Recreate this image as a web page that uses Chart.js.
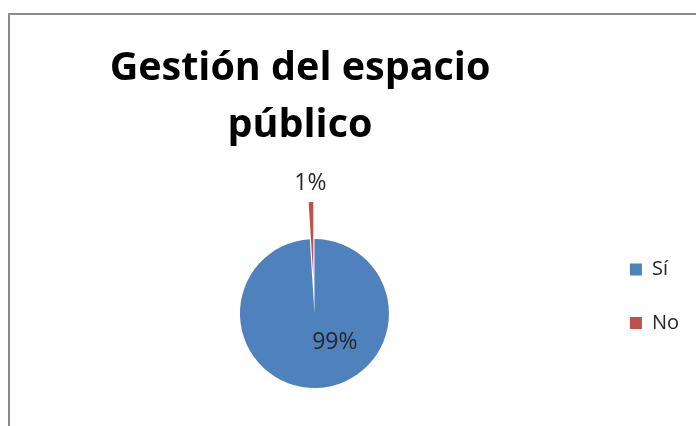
<!DOCTYPE html>
<html>
<head>
<meta charset="utf-8">
<script src="https://cdn.jsdelivr.net/npm/chart.js@4/dist/chart.umd.min.js"></script>
<style>
  html, body { margin: 0; padding: 0; background: #fff; }
  #wrap { position: relative; width: 696px; height: 426px; overflow: hidden; }
  #frame { position: absolute; left: 8px; top: 13px; width: 800px; height: 600px; border: 2px solid #8c8c8c; }
  #box { position: absolute; left: 0; top: 0; width: 696px; height: 426px; }
</style>
</head>
<body>
<div id="wrap">
  <div id="frame"></div>
  <div id="box"><canvas id="canvas"></canvas></div>
</div>
<script>
const titleLines = ['Gestión del espacio', 'público']
const labels = ['Sí', 'No']
const values = [99, 1]
const colors = ['#4F81BD', '#C0504D']
const explodeBy = [0, 37]

const total = values.reduce((a, b) => a + b, 0)

// Excel style exploded slice: move the whole arc out along its mid angle
// (chart.js "offset" also thins small slices, so it is not used here)
const explode = {
  id: 'explode',
  afterDatasetUpdate(chart, args) {
    args.meta.data.forEach((arc, i) => {
      const d = explodeBy[i]
      if (!d) return
      const mid = (arc.startAngle + arc.endAngle) / 2
      arc.x += Math.cos(mid) * d
      arc.y += Math.sin(mid) * d
    })
  }
}

// percentage labels, drawn from the arc geometry
const pieLabels = {
  id: 'pieLabels',
  afterDatasetsDraw(chart) {
    const ctx = chart.ctx
    const arcs = chart.getDatasetMeta(0).data
    ctx.save()
    ctx.font = '23px "Open Sans"'
    ctx.fillStyle = '#262626'
    ctx.textAlign = 'center'
    ctx.textBaseline = 'middle'
    arcs.forEach((arc, i) => {
      const p = arc.getProps(['x', 'y', 'startAngle', 'endAngle', 'outerRadius'], true)
      const text = Math.round(values[i] / total * 100) + '%'
      let x, y
      if (i === 0) {
        // Excel "best fit" puts the big label low right inside the slice
        const a = 0.95, d = p.outerRadius * 0.47
        x = p.x + Math.cos(a) * d
        y = p.y + Math.sin(a) * d
      } else {
        const mid = (p.startAngle + p.endAngle) / 2
        const d = p.outerRadius + 19
        x = p.x + Math.cos(mid) * d
        y = p.y + Math.sin(mid) * d
      }
      ctx.fillText(text, x, y)
    })
    ctx.restore()
  }
}

const data = {
  labels: labels,
  datasets: [{
    data: values,
    backgroundColor: colors,
    borderWidth: 0,
    hoverOffset: 0,
    clip: false,
  }],
}

const config = {
  type: 'pie',
  data: data,
  options: {
    responsive: true,
    maintainAspectRatio: false,
    animation: false,
    radius: 74.5,
    layout: { padding: { left: -89, right: 7, top: 0, bottom: 25 } },
    plugins: {
      title: {
        display: true,
        text: titleLines,
        color: '#000',
        font: { family: 'Open Sans', size: 39.5, weight: 'bold', lineHeight: '57px' },
        padding: { top: 40, bottom: 72 },
      },
      // empty spacer on the left so the pie sits where Excel put it
      subtitle: {
        display: true,
        text: ' ',
        position: 'left',
        fullSize: false,
        padding: 0,
        font: { size: 10, lineHeight: '121.5px' },
      },
      legend: {
        position: 'right',
        fullSize: false,
        align: 'start',
        labels: {
          boxWidth: 12,
          boxHeight: 12,
          padding: 33.5,
          color: '#262626',
          font: { family: 'Open Sans', size: 20 },
        },
      },
      tooltip: { enabled: false },
    },
  },
  plugins: [explode, pieLabels],
}

const canvas = document.getElementById('canvas')
const chart = new Chart(canvas, config)
</script>
</body>
</html>
